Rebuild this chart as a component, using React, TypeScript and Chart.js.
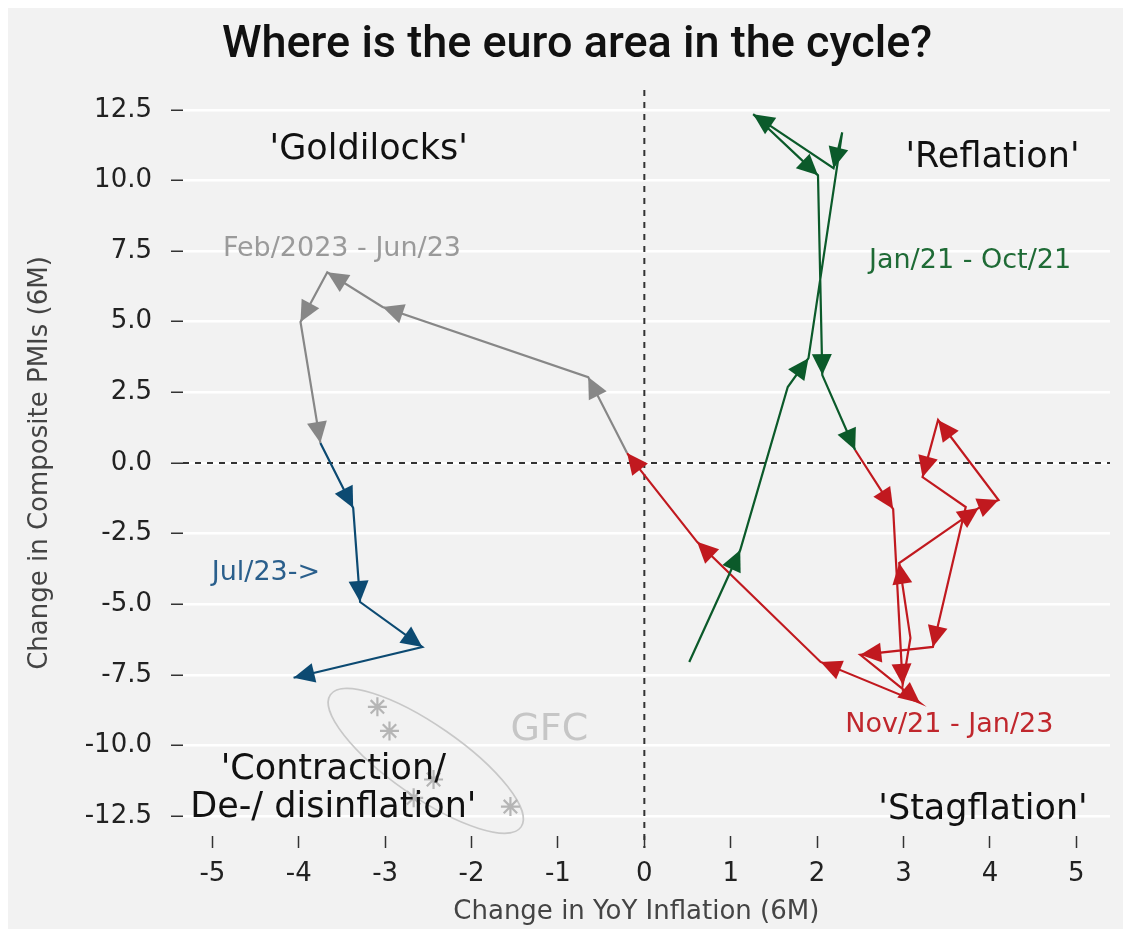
import React, { useEffect, useRef } from "react";
import { Chart, registerables } from "chart.js";

Chart.register(...registerables);

// ---------- data ----------
const xTicks = [-5, -4, -3, -2, -1, 0, 1, 2, 3, 4, 5];
const yTicks = [-12.5, -10, -7.5, -5, -2.5, 0, 2.5, 5, 7.5, 10, 12.5];

// Jan/21 - Oct/21
const greenX = [0.52, 1.11, 1.66, 1.9, 2.29, 2.19, 1.26, 2.01, 2.06, 2.44];
const greenY = [-7.04, -3.08, 2.69, 3.71, 11.7, 10.43, 12.34, 10.18, 3.11, 0.46];
// arrowhead at the end of each segment (segment k ends at point k+1)
const greenArrows = [true, false, true, false, true, true, true, true, true];

// Nov/21 - Jan/23
const redX = [2.88, 2.99, 3.08, 2.95, 3.87, 4.1, 3.4, 3.22, 3.72, 3.34, 2.5, 3.19, 2.04, 0.61, -0.2];
const redY = [-1.63, -7.85, -6.19, -3.54, -1.59, -1.31, 1.52, -0.5, -1.56, -6.51, -6.79, -8.49, -7.04, -2.79, 0.35];
const redArrows = [true, true, false, true, true, true, true, true, false, true, true, true, true, true, true];

// Feb/23 - Jun/23
const grayX = [-0.65, -3.03, -3.67, -3.98, -3.75];
const grayY = [3.04, 5.52, 6.75, 4.99, 0.71];
const grayArrows = [true, true, true, true, true];

// Jul/23 ->
const blueX = [-3.37, -3.29, -2.57, -4.06];
const blueY = [-1.59, -4.92, -6.51, -7.6];
const blueArrows = [true, true, true, true];

// GFC
const gfcX = [-3.09, -2.95, -2.44, -2.67, -1.55];
const gfcY = [-8.63, -9.48, -11.2, -11.85, -12.16];

// ---------- styling / annotations ----------
const GREEN = "#0b5a2a";
const RED = "#c1191f";
const GRAY = "#878787";
const BLUE = "#0c4a72";
const FONT = "'DejaVu Sans', sans-serif";
const TITLE_FONT = "Roboto, 'DejaVu Sans', sans-serif";

const annotations = [
  { text: "'Goldilocks'", x: -3.19, y: 11.07, color: "#111", size: 35 },
  { text: "'Reflation'", x: 4.03, y: 10.78, color: "#111", size: 35 },
  { text: "'Contraction/", x: -3.6, y: -10.86, color: "#111", size: 35 },
  { text: "De-/ disinflation'", x: -3.6, y: -12.22, color: "#111", size: 35 },
  { text: "'Stagflation'", x: 3.92, y: -12.27, color: "#111", size: 35 },
  { text: "Jan/21 - Oct/21", x: 3.77, y: 7.14, color: "#1f6b36", size: 27 },
  { text: "Feb/2023 - Jun/23", x: -3.5, y: 7.57, color: "#9a9a9a", size: 27 },
  { text: "Jul/23->", x: -4.38, y: -3.89, color: "#2a5f8c", size: 27 },
  { text: "Nov/21 - Jan/23", x: 3.53, y: -9.26, color: "#c0272d", size: 27 },
  { text: "GFC", x: -1.1, y: -9.44, color: "#c6c6c6", size: 38 },
];

const ellipse = { x: -2.53, y: -10.54, rx: 116, ry: 36, angle: 34.7 };

function pts(xs: number[], ys: number[]) {
  return xs.map((x, i) => ({ x, y: ys[i] }));
}

const greenData = pts(greenX, greenY);
const redData = [greenData[greenData.length - 1], ...pts(redX, redY)];
const grayData = [redData[redData.length - 1], ...pts(grayX, grayY)];
const blueData = [grayData[grayData.length - 1], ...pts(blueX, blueY)];

const bgPlugin = {
  id: "bg",
  beforeDraw(chart: any) {
    const ctx = chart.ctx;
    ctx.save();
    ctx.fillStyle = "#f2f2f2";
    ctx.fillRect(0, 0, chart.width, chart.height);
    ctx.restore();
  },
};

const zeroPlugin = {
  id: "zero",
  beforeDatasetsDraw(chart: any) {
    const { ctx, chartArea, scales } = chart;
    const x0 = scales.x.getPixelForValue(0);
    const y0 = scales.y.getPixelForValue(0);
    ctx.save();
    ctx.strokeStyle = "#333";
    ctx.lineWidth = 2;
    ctx.setLineDash([6, 6]);
    ctx.beginPath();
    ctx.moveTo(chartArea.left, y0);
    ctx.lineTo(chartArea.right, y0);
    ctx.moveTo(x0, chartArea.top);
    ctx.lineTo(x0, chartArea.bottom + 12);
    ctx.stroke();
    ctx.setLineDash([]);
    // GFC ellipse
    const cx = scales.x.getPixelForValue(ellipse.x);
    const cy = scales.y.getPixelForValue(ellipse.y);
    ctx.strokeStyle = "#c8c8c8";
    ctx.lineWidth = 1.6;
    ctx.beginPath();
    ctx.ellipse(cx, cy, ellipse.rx, ellipse.ry, (ellipse.angle * Math.PI) / 180, 0, Math.PI * 2);
    ctx.stroke();
    ctx.restore();
  },
};

const arrowPlugin = {
  id: "arrows",
  afterDatasetsDraw(chart: any) {
    const ctx = chart.ctx;
    const L = 21;
    const W = 10;
    chart.data.datasets.forEach((ds: any, di: number) => {
      const flags = ds.arrows;
      if (!flags) return;
      const p = chart.getDatasetMeta(di).data;
      for (let j = 1; j < p.length; j++) {
        if (!flags[j - 1]) continue;
        const a = p[j];
        const b = p[j - 1];
        const ang = Math.atan2(a.y - b.y, a.x - b.x);
        ctx.save();
        ctx.translate(a.x, a.y);
        ctx.rotate(ang);
        ctx.beginPath();
        ctx.moveTo(0, 0);
        ctx.lineTo(-L, -W);
        ctx.lineTo(-L, W);
        ctx.closePath();
        ctx.fillStyle = ds.borderColor;
        ctx.fill();
        ctx.restore();
      }
    });
  },
};

const textPlugin = {
  id: "texts",
  afterDraw(chart: any) {
    const { ctx, scales } = chart;
    ctx.save();
    ctx.textAlign = "center";
    ctx.textBaseline = "middle";
    annotations.forEach((a) => {
      ctx.font = `${a.size}px ${FONT}`;
      ctx.fillStyle = a.color;
      ctx.fillText(a.text, scales.x.getPixelForValue(a.x), scales.y.getPixelForValue(a.y));
    });
    // title
    ctx.font = `500 45px ${TITLE_FONT}`;
    ctx.fillStyle = "#111";
    ctx.fillText("Where is the euro area in the cycle?", 569, 38);
    // axis titles
    ctx.font = `26px ${FONT}`;
    ctx.fillStyle = "#444";
    ctx.fillText("Change in YoY Inflation (6M)", scales.x.getPixelForValue(0) - 8, 904);
    ctx.save();
    ctx.translate(32, scales.y.getPixelForValue(0));
    ctx.rotate(-Math.PI / 2);
    ctx.fillText("Change in Composite PMIs (6M)", 0, 0);
    ctx.restore();
    ctx.restore();
  },
};

const lineDs = (label: string, data: any[], color: string, arrows: boolean[]) => ({
  label,
  data,
  borderColor: color,
  backgroundColor: color,
  borderWidth: 2.2,
  showLine: true,
  pointRadius: 0,
  tension: 0,
  arrows,
});

export default function App() {
  const ref = useRef<HTMLCanvasElement>(null);
  useEffect(() => {
    const chart = new Chart(ref.current as HTMLCanvasElement, {
      type: "scatter",
      data: {
        datasets: [
          lineDs("Jan/21 - Oct/21", greenData, GREEN, greenArrows),
          lineDs("Nov/21 - Jan/23", redData, RED, redArrows),
          lineDs("Feb/2023 - Jun/23", grayData, GRAY, grayArrows),
          lineDs("Jul/23->", blueData, BLUE, blueArrows),
          {
            label: "GFC",
            data: pts(gfcX, gfcY),
            showLine: false,
            pointStyle: "star",
            pointRadius: 9.5,
            borderColor: "#b5b5b5",
            backgroundColor: "#b5b5b5",
            borderWidth: 2.2,
          } as any,
        ],
      },
      options: {
        responsive: false,
        animation: false,
        layout: { padding: { top: 82, right: 13, left: 0, bottom: 0 } },
        plugins: { legend: { display: false }, tooltip: { enabled: false }, title: { display: false } },
        scales: {
          x: {
            type: "linear",
            min: -5.34,
            max: 5.39,
            afterBuildTicks: (s: any) => {
              s.ticks = xTicks.map((v) => ({ value: v }));
            },
            afterFit: (s: any) => {
              s.height = 93;
            },
            grid: { drawOnChartArea: false, drawTicks: true, tickLength: 12, tickColor: "#333", tickWidth: 1.5 },
            border: { display: false },
            ticks: { padding: 11, color: "#222", font: { family: FONT, size: 26 }, callback: (v: any) => String(v) },
          },
          y: {
            type: "linear",
            min: -13.2,
            max: 13.2,
            afterBuildTicks: (s: any) => {
              s.ticks = yTicks.map((v) => ({ value: v }));
            },
            afterFit: (s: any) => {
              s.width = 175;
            },
            grid: { color: "#ffffff", lineWidth: 2.5, drawTicks: true, tickLength: 12, tickColor: "#333", tickWidth: 1.5 },
            border: { display: false },
            ticks: { padding: 19, color: "#222", font: { family: FONT, size: 26 }, callback: (v: any) => Number(v).toFixed(1) },
          },
        },
      } as any,
      plugins: [bgPlugin, zeroPlugin, arrowPlugin, textPlugin],
    });
    return () => chart.destroy();
  }, []);
  return <canvas ref={ref} width={1115} height={921} style={{ display: "block" }} />;
}
